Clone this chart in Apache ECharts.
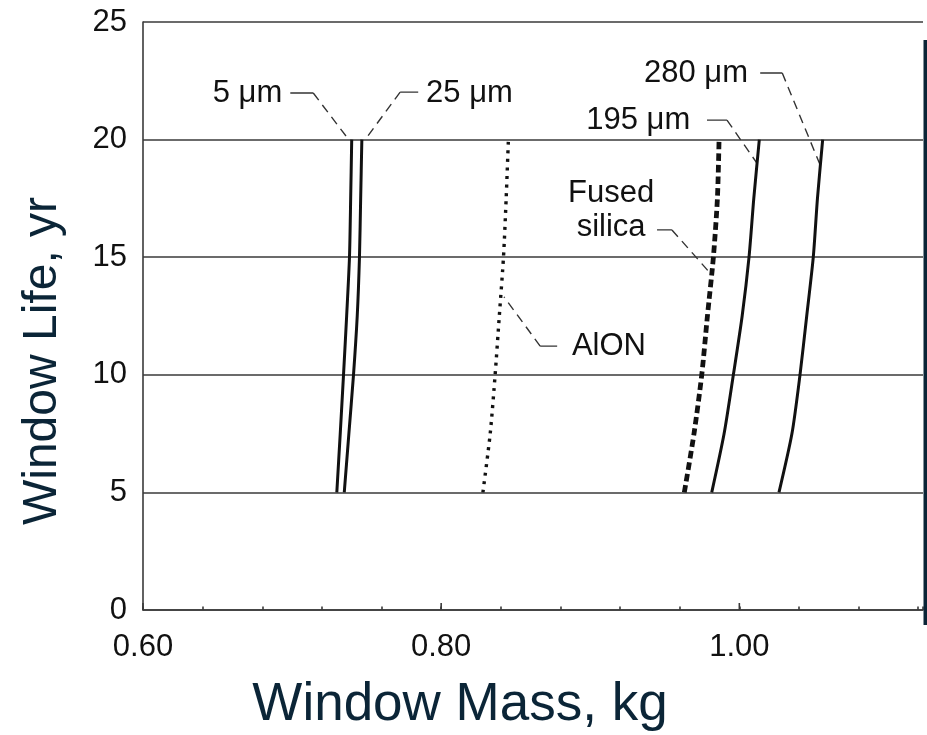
<!DOCTYPE html>
<html>
<head>
<meta charset="utf-8">
<script src="https://cdn.jsdelivr.net/npm/echarts@6/dist/echarts.min.js"></script>
<style>
  html, body { margin: 0; padding: 0; background: #ffffff; }
  #chart { width: 927px; height: 735px; }
</style>
</head>
<body>
<div id="chart"></div>
<script>
// Window life (yr) at which each curve is sampled
const lifeYears = [5, 7.5, 10, 12.5, 15, 17.5, 20];

// Window mass (kg) for each window/coating option
const mass5um      = [0.7300, 0.7323, 0.7345, 0.7366, 0.7385, 0.7393, 0.7400];
const mass25um     = [0.7350, 0.7381, 0.7412, 0.7437, 0.7452, 0.7460, 0.7468];
const massAlON     = [0.8280, 0.8329, 0.8362, 0.8390, 0.8418, 0.8436, 0.8451];
const massFused    = [0.9631, 0.9696, 0.9748, 0.9786, 0.9826, 0.9853, 0.9864];
const mass195um    = [0.9815, 0.9898, 0.9960, 1.0019, 1.0065, 1.0097, 1.0134];
const mass280um    = [1.0266, 1.0353, 1.0407, 1.0452, 1.0496, 1.0524, 1.0559];

// Axis ticks
const xMajorTicks = [0.60, 0.80, 1.00];
const xTickLabels = ['0.60', '0.80', '1.00'];
const yTicks = [0, 5, 10, 15, 20, 25];

// Curve labels and their leader lines (in mass / life units)
const labelTexts  = ['5 μm', '25 μm', 'AlON', 'Fused\nsilica', '195 μm', '280 μm'];
const labelMass   = [0.6934, 0.7899, 0.8877, 0.9140, 0.9671, 1.0058];
const labelLife   = [21.98, 21.98, 11.22, 17.00, 20.83, 22.83];
const labelAlign  = ['right', 'left', 'left', 'center', 'right', 'right'];
// each leader: [label end, elbow, curve end]
const leaderMass  = [
  [0.6988, 0.7142, 0.7380],
  [0.7846, 0.7725, 0.7490],
  [0.8778, 0.8664, 0.8422],
  [0.9448, 0.9548, 0.9803],
  [0.9783, 0.9917, 1.0118],
  [1.0140, 1.0288, 1.0542]
];
const leaderLife  = [
  [21.98, 21.98, 20.00],
  [22.02, 22.02, 20.00],
  [11.22, 11.22, 13.31],
  [16.16, 16.16, 14.33],
  [20.83, 20.83, 19.00],
  [22.83, 22.83, 18.92]
];

const FONT = '"Liberation Sans", Arial, Helvetica, sans-serif';
const INK = '#111111';
const GRID = '#3a3a3a';
const NAVY = '#0b2537';

function pairs(xs, ys) { return xs.map((x, i) => [x, ys[i]]); }

function curve(name, mass, style) {
  return {
    name: name, type: 'line', data: pairs(mass, lifeYears),
    showSymbol: false, smooth: 0.25, silent: true, z: 4,
    lineStyle: Object.assign({ color: '#111111', width: 3 }, style)
  };
}

const series = [
  curve('5 μm', mass5um, {}),
  curve('25 μm', mass25um, {}),
  curve('AlON', massAlON, { type: [3, 5.5], width: 3.4, cap: 'butt' }),
  curve('Fused silica', massFused, { type: [7.5, 4], width: 4.8, cap: 'butt' }),
  curve('195 μm', mass195um, {}),
  curve('280 μm', mass280um, {})
];

// Leader lines: a short solid stub beside the label, then a dashed run to the curve
leaderMass.forEach((xs, i) => {
  const pts = pairs(xs, leaderLife[i]);
  series.push({
    type: 'line', data: [pts[0], pts[1]], showSymbol: false, silent: true, z: 3,
    lineStyle: { color: '#333333', width: 1.4 }
  });
  series.push({
    type: 'line', data: [pts[1], pts[2]], showSymbol: false, silent: true, z: 3,
    lineStyle: { color: '#333333', width: 1.4, type: [9, 6], dashOffset: 0 }
  });
});

// Curve labels
series.push({
  type: 'scatter', symbolSize: 0, silent: true, z: 5,
  itemStyle: { opacity: 1 },
  data: labelTexts.map((t, i) => ({
    value: [labelMass[i], labelLife[i]],
    label: {
      show: true, formatter: t, position: [0, 0],
      align: labelAlign[i], verticalAlign: 'middle',
      fontFamily: FONT, fontSize: 31, color: INK, lineHeight: 34,
      opacity: 1, textBorderWidth: 0
    }
  }))
});

// Longer ticks at the labelled mass values
series.push({
  type: 'custom', silent: true, z: 6,
  data: xMajorTicks.map(v => [v, 0]),
  renderItem: function (params, api) {
    const p = api.coord([api.value(0), 0]);
    return {
      type: 'line',
      shape: { x1: p[0], y1: p[1], x2: p[0], y2: p[1] - 7 },
      style: { stroke: GRID, lineWidth: 1.6 }
    };
  }
});

const chart = echarts.init(document.getElementById('chart'), null, { renderer: 'canvas' });
chart.setOption({
  animation: false,
  backgroundColor: '#ffffff',
  grid: { left: 143, right: 4, top: 22, bottom: 125, containLabel: false },
  xAxis: {
    type: 'value', min: 0.6, max: 1.1232, interval: 0.04,
    axisLine: { show: true, lineStyle: { color: GRID, width: 1.6 } },
    axisTick: { show: true, inside: true, length: 3.5, lineStyle: { color: GRID, width: 1.6 } },
    splitLine: { show: false },
    axisLabel: {
      margin: 22, fontFamily: FONT, fontSize: 31, color: INK,
      formatter: function (v) {
        const k = xMajorTicks.findIndex(t => Math.abs(t - v) < 1e-6);
        return k >= 0 ? xTickLabels[k] : '';
      }
    }
  },
  yAxis: {
    type: 'value', min: yTicks[0], max: yTicks[yTicks.length - 1], interval: 5,
    axisLine: { show: true, lineStyle: { color: GRID, width: 1.6 } },
    axisTick: { show: false },
    splitLine: { show: true, lineStyle: { color: GRID, width: 1.6 } },
    axisLabel: { margin: 16, fontFamily: FONT, fontSize: 31, color: INK }
  },
  graphic: [
    {
      type: 'text', x: 460, y: 705, z: 10,
      style: {
        text: 'Window Mass, kg', fontFamily: FONT, fontSize: 53, fill: NAVY,
        textAlign: 'center', textVerticalAlign: 'middle'
      }
    },
    {
      type: 'text', x: 43, y: 361, rotation: Math.PI / 2, z: 10,
      style: {
        text: 'Window Life, yr', fontFamily: FONT, fontSize: 48, fill: NAVY,
        textAlign: 'center', textVerticalAlign: 'middle'
      }
    },
    {
      type: 'rect', x: 923.5, y: 40, z: 20,
      shape: { width: 4, height: 585 },
      style: { fill: NAVY }
    }
  ],
  series: series
});
</script>
</body>
</html>
